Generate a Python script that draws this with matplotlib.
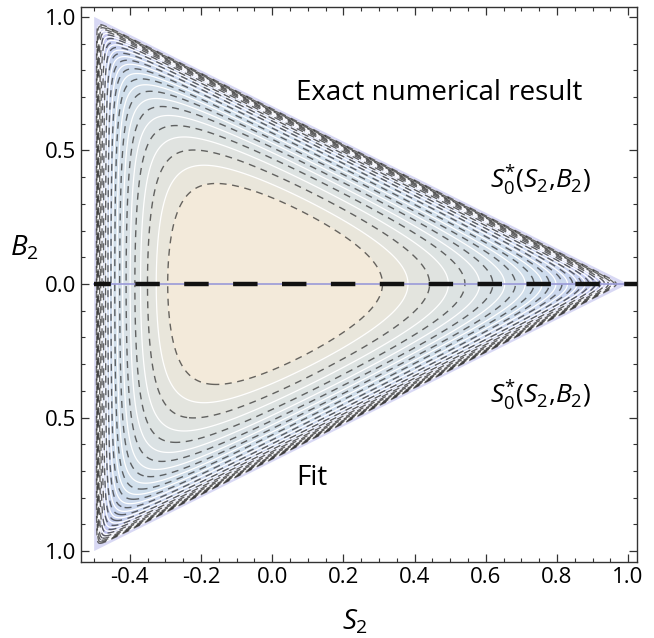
import numpy as np
import matplotlib
matplotlib.use("Agg")
import matplotlib.pyplot as plt
from matplotlib.colors import LinearSegmentedColormap, Normalize
from matplotlib.patches import Polygon

plt.rcParams["font.family"] = ["Open Sans", "DejaVu Sans"]
plt.rcParams["mathtext.fontset"] = "custom"
plt.rcParams["mathtext.rm"] = "Open Sans"
plt.rcParams["mathtext.it"] = "Open Sans:italic"

# corners of the allowed (S2, B2) region
tri_s2 = [-0.5, -0.5, 1.0]
tri_b2 = [1.0, -1.0, 0.0]

# contour levels of ln S0* (exact = white, fit = dashed)
white_levels = [-5.116, -4.946, -4.776, -4.606, -4.436,
                -4.266, -4.096, -3.926, -3.756, -3.586, -3.416, -3.246,
                -3.076, -2.906, -2.736, -2.566, -2.396]
dashed_levels = [-5.201, -5.031, -4.861, -4.691, -4.521, -4.351,
                 -4.181, -4.011, -3.841, -3.671, -3.501, -3.331, -3.161,
                 -2.991, -2.821, -2.651, -2.481, -2.311]
top_level = -2.1

xticks = [-0.4, -0.2, 0.0, 0.2, 0.4, 0.6, 0.8, 1.0]
yticks = [-1.0, -0.5, 0.0, 0.5, 1.0]
yticklabels = ["1.0", "0.5", "0.0", "0.5", "1.0"]

# field on the triangle (barycentric coordinates)
s = np.linspace(-0.5, 1.0, 1600)
b = np.linspace(-1.0, 1.0, 2000)
S, B = np.meshgrid(s, b)
pa = (S + 0.5) / 1.5
pb = (1 - pa) / 2 + B / 2
pc = (1 - pa) / 2 - B / 2
inside = (pa > 0) & (pb > 0) & (pc > 0)
with np.errstate(divide="ignore", invalid="ignore"):
    G = 1.0 / (0.75 / pa + 1.0 / pb + 1.0 / pc)
F = np.where(inside, np.log(np.clip(G, 1e-12, None)), -30.0)

cmap = LinearSegmentedColormap.from_list("lake", [
    (0.0, "#c4c4f2"), (0.25, "#c6cff0"), (0.55, "#cfdeec"), (0.79, "#dbe2e4"),
    (0.89, "#e2e4de"), (0.93, "#e8e6dc"), (0.96, "#f2e9d7"), (1.0, "#f3eada")])
cmap.set_under("#d8d8f4")

fig = plt.figure(figsize=(6.54, 6.38), dpi=100)
ax = fig.add_axes([81 / 654, 1 - 562 / 638, 556 / 654, 555 / 638])

tri = Polygon(list(zip(tri_s2, tri_b2)), closed=True, transform=ax.transData,
              facecolor="none", edgecolor="none")
ax.add_patch(tri)

all_levels = sorted(white_levels + dashed_levels) + [top_level]
cf = ax.contourf(S, B, F, levels=all_levels, cmap=cmap,
                 norm=Normalize(-4.45, -2.2), extend="min")
cf.set_clip_path(tri)
cw = ax.contour(S, B, F, levels=white_levels, colors="white",
                linewidths=0.9, linestyles="solid")
cw.set_clip_path(tri)
cd = ax.contour(S, B, F, levels=dashed_levels, colors="#2a2a2a",
                linewidths=1.0, linestyles=[(0, (5, 4))], alpha=0.7)
cd.set_clip_path(tri)

ax.plot([tri_s2[0], tri_s2[2]], [0, 0], color="#9a9ad8", lw=1.2, zorder=3)
ax.plot([-0.5, 1.1], [0, 0], color="#111111", lw=3.2,
        linestyle=(1.7, (5.5, 5.5)), zorder=4, dash_capstyle="butt")

ax.set_xlim(-0.537, 1.025)
ax.set_ylim(-1.041, 1.037)
ax.set_xticks(xticks)
ax.set_xticklabels([f"{v:.1f}" for v in xticks])
ax.set_xticks(np.arange(-0.5, 1.03, 0.05), minor=True)
ax.set_yticks(yticks)
ax.set_yticklabels(yticklabels)
ax.set_yticks(np.arange(-1.0, 1.01, 0.1), minor=True)
ax.tick_params(which="both", direction="in", top=True, right=True,
               labelsize=16, color="#333333")
ax.tick_params(which="major", length=6, width=0.9)
ax.tick_params(which="minor", length=3.2, width=0.8)
for sp in ax.spines.values():
    sp.set_linewidth(1.0)
    sp.set_color("#333333")

ax.text(0.469, 0.715, "Exact numerical result", fontsize=20,
        ha="center", va="center")
lab = r"$\mathit{S}_{\mathrm{0}}^{*}(\mathit{S}_{\mathrm{2}}{,}\mathit{B}_{\mathrm{2}})$"
ax.text(0.755, 0.389, lab, fontsize=19, ha="center", va="center")
ax.text(0.755, -0.416, lab, fontsize=19, ha="center", va="center")
ax.text(0.112, -0.726, "Fit", fontsize=20, ha="center", va="center")

fig.text(0.038, 0.611, r"$\mathit{B}_{\mathrm{2}}$", fontsize=20,
         ha="center", va="center")
fig.text(0.543, 0.025, r"$\mathit{S}_{\mathrm{2}}$", fontsize=20,
         ha="center", va="center")

fig.savefig("out.png", dpi=100)
